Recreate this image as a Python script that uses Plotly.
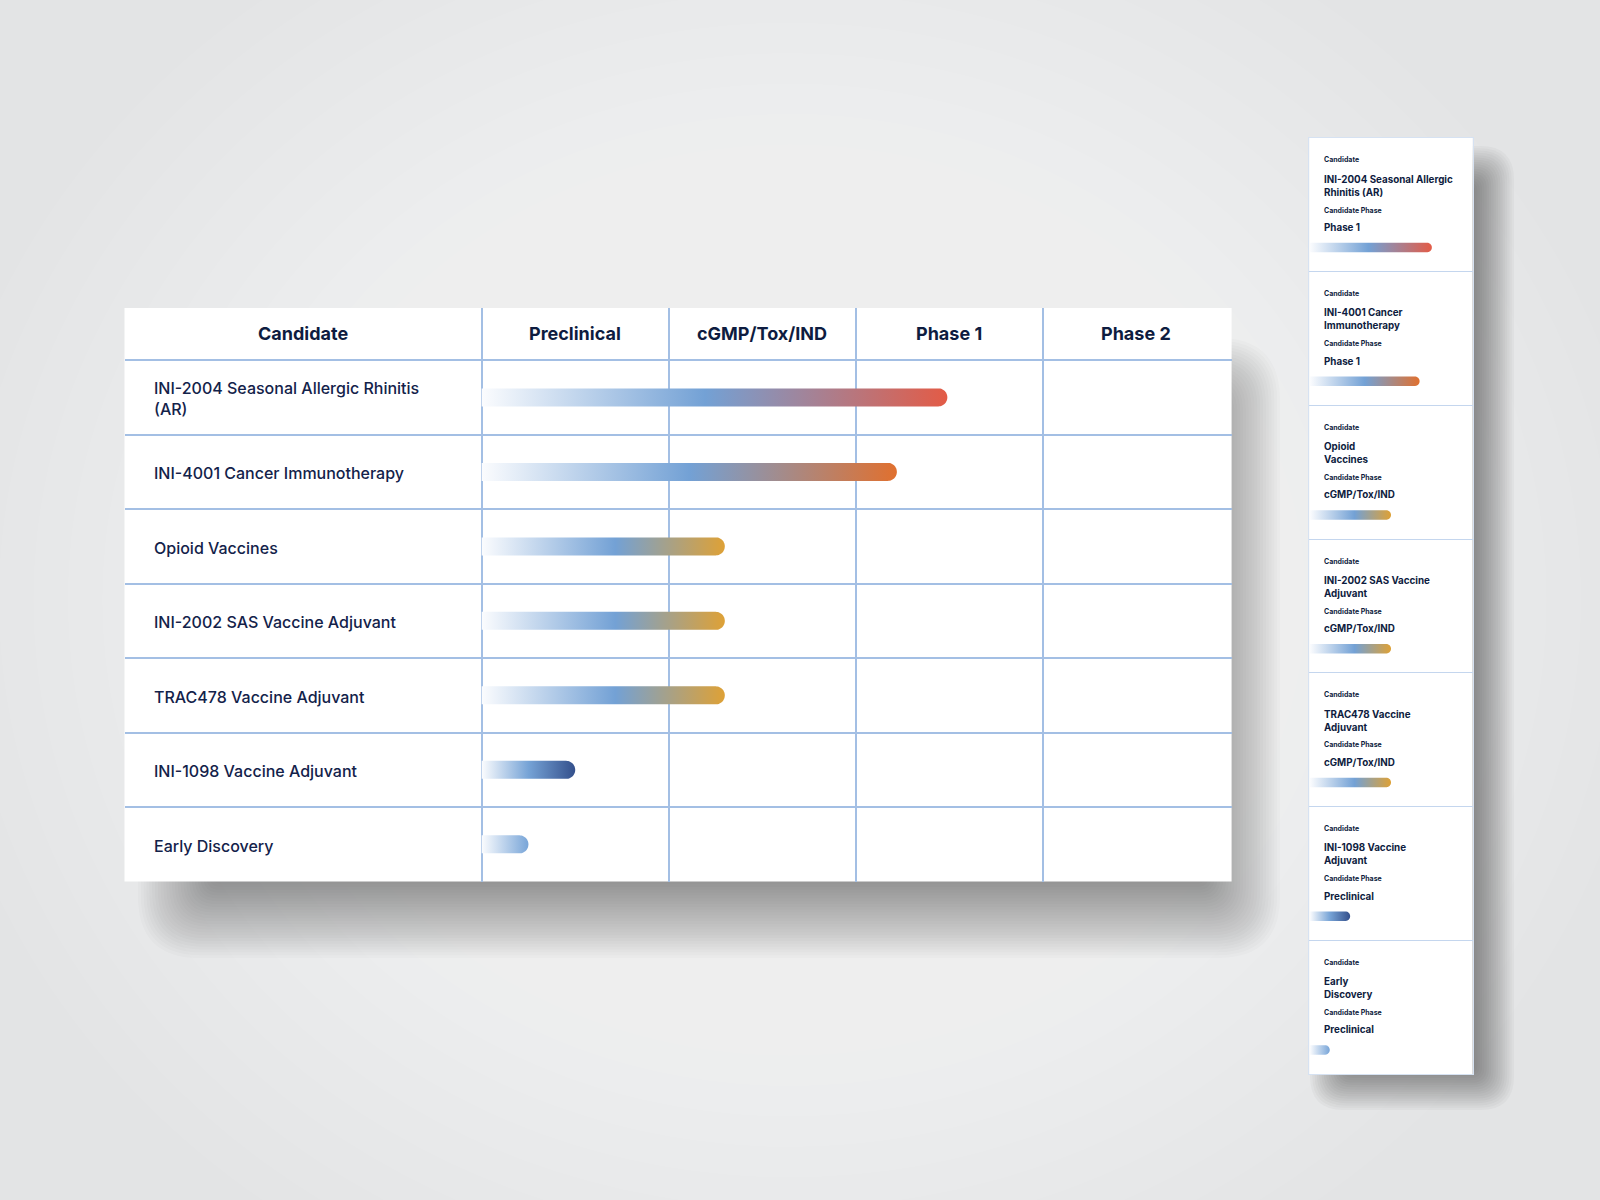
import numpy as np
import plotly.graph_objects as go

# ---------------- data ----------------
phases = ["Preclinical", "cGMP/Tox/IND", "Phase 1", "Phase 2"]
candidates = [
    "INI-2004 Seasonal Allergic Rhinitis<br>(AR)",
    "INI-4001 Cancer Immunotherapy",
    "Opioid Vaccines",
    "INI-2002 SAS Vaccine Adjuvant",
    "TRAC478 Vaccine Adjuvant",
    "INI-1098 Vaccine Adjuvant",
    "Early Discovery",
]
card_names = [
    "INI-2004 Seasonal Allergic<br>Rhinitis (AR)",
    "INI-4001 Cancer<br>Immunotherapy",
    "Opioid<br>Vaccines",
    "INI-2002 SAS Vaccine<br>Adjuvant",
    "TRAC478 Vaccine<br>Adjuvant",
    "INI-1098 Vaccine<br>Adjuvant",
    "Early<br>Discovery",
]
card_phase = ["Phase 1", "Phase 1", "cGMP/Tox/IND", "cGMP/Tox/IND",
              "cGMP/Tox/IND", "Preclinical", "Preclinical"]
# progress in phase-column units (0 = start of Preclinical)
progress = [2.49, 2.22, 1.30, 1.30, 1.30, 0.50, 0.25]
# progress as fraction of the mobile card width
card_progress = [0.75, 0.675, 0.50, 0.50, 0.50, 0.25, 0.125]

# ---------------- styles ----------------
NAVY = "#0e1c40"
BLUE = "#73a1d5"
gradients = [
    [[0, "#fbfcfe"], [0.48, BLUE], [1, "#e35b46"]],
    [[0, "#fbfcfe"], [0.50, BLUE], [1, "#e0702f"]],
    [[0, "#fbfcfe"], [0.55, BLUE], [1, "#dea136"]],
    [[0, "#fbfcfe"], [0.55, BLUE], [1, "#dea136"]],
    [[0, "#fbfcfe"], [0.55, BLUE], [1, "#dea136"]],
    [[0, "#fbfcfe"], [0.50, "#76a3d6"], [1, "#34508c"]],
    [[0, "#fbfcfe"], [1, "#78a5d8"]],
]

W, H = 1600, 1200
T_L, T_R, T_T, T_B = 124.5, 1231.6, 308.0, 881.6      # main table box (px)
C_L, C_R, C_T, C_B = 1309.3, 1472.7, 137.8, 1074.0    # mobile card box (px)
XR = [-1.91, 4.01]
YR = [6.5, -1.2]
PPX = (T_R - T_L) / (XR[1] - XR[0])
PPY = (T_B - T_T) / (YR[0] - YR[1])
N = len(candidates)
PPX2 = (C_R - C_L) / 1.0
PPY2 = (C_B - C_T) / N


def capsule(x0, x1, yc, h_px, ppx, ppy, n=30):
    rx = h_px / 2 / ppx
    ry = h_px / 2 / ppy
    cx = max(x1 - rx, x0)
    th = np.linspace(-np.pi / 2, np.pi / 2, n)
    xs = [x0] + list(cx + rx * np.cos(th)) + [x0, x0]
    ys = [yc - ry] + list(yc + ry * np.sin(th)) + [yc + ry, yc - ry]
    return xs, ys


fig = go.Figure()

# main table bars
for i, v in enumerate(progress):
    xs, ys = capsule(0, v, i, 18, PPX, PPY)
    fig.add_trace(go.Scatter(
        x=xs, y=ys, mode="none", fill="toself",
        fillgradient=dict(type="horizontal", colorscale=gradients[i], start=0, stop=v),
        hoverinfo="skip", showlegend=False, xaxis="x", yaxis="y"))

# mobile card bars
for i, v in enumerate(card_progress):
    xs, ys = capsule(0.004, v, i + 0.82, 9.5, PPX2, PPY2)
    fig.add_trace(go.Scatter(
        x=xs, y=ys, mode="none", fill="toself",
        fillgradient=dict(type="horizontal", colorscale=gradients[i], start=0.004, stop=v),
        hoverinfo="skip", showlegend=False, xaxis="x2", yaxis="y2"))

ann = []
HF = dict(family="Inter", size=18, color=NAVY, weight=700)
ann.append(dict(x=(XR[0] + 0) / 2, y=-0.86, text="Candidate", xref="x", yref="y",
                showarrow=False, font=HF))
for j, p in enumerate(phases):
    ann.append(dict(x=j + 0.5, y=-0.86, text=p, xref="x", yref="y", showarrow=False, font=HF))
for i, c in enumerate(candidates):
    ann.append(dict(x=XR[0] + (152 - T_L) / PPX, y=i + 0.02, text=c, xref="x", yref="y",
                    xanchor="left", align="left", showarrow=False,
                    font=dict(family="Inter", size=16, color="#13224a", weight=500)))

# card texts
cx = 0.078
SF = dict(family="Inter", size=7, color=NAVY, weight=700)
BF = dict(family="Inter", size=9.8, color=NAVY, weight=700)
for i in range(N):
    ann.append(dict(x=cx, y=i + 0.165, text="Candidate", xref="x2", yref="y2",
                    xanchor="left", showarrow=False, font=SF))
    ann.append(dict(x=cx, y=i + 0.357, text=card_names[i], xref="x2", yref="y2",
                    xanchor="left", align="left", showarrow=False, font=BF))
    ann.append(dict(x=cx, y=i + 0.54, text="Candidate Phase", xref="x2", yref="y2",
                    xanchor="left", showarrow=False, font=SF))
    ann.append(dict(x=cx, y=i + 0.67, text=card_phase[i], xref="x2", yref="y2",
                    xanchor="left", showarrow=False, font=BF))

# ---------------- decorative background ----------------
def P(px, py):
    return px / W, 1 - py / H


def rrect(x0, y0, x1, y1, r):
    r = max(0.5, min(r, (x1 - x0) / 2, (y1 - y0) / 2))
    pts = [("M", (x0 + r, y0)), ("L", (x1 - r, y0)), ("Q", (x1, y0), (x1, y0 + r)),
           ("L", (x1, y1 - r)), ("Q", (x1, y1), (x1 - r, y1)), ("L", (x0 + r, y1)),
           ("Q", (x0, y1), (x0, y1 - r)), ("L", (x0, y0 + r)), ("Q", (x0, y0), (x0 + r, y0))]
    s = ""
    for seg in pts:
        s += seg[0] + " " + " ".join("%.5f,%.5f" % P(*p) for p in seg[1:]) + " "
    return s + "Z"


shapes = []
for k in range(20):
    f = 1 - k * 0.04
    rx, ry = 860 * f, 760 * f
    x0, y0 = P(790 - rx, 600 - ry)
    x1, y1 = P(790 + rx, 600 + ry)
    shapes.append(dict(type="circle", xref="paper", yref="paper", x0=x0, x1=x1, y0=y0, y1=y1,
                       fillcolor="rgba(255,255,255,0.055)", line=dict(width=0), layer="below"))


def shadow(x0, y0, x1, y1, spread, n, alpha):
    for k in range(n):
        e = -spread + 2 * spread * k / (n - 1)
        shapes.append(dict(type="path", xref="paper", yref="paper",
                           path=rrect(x0 - e, y0 - e, x1 + e, y1 + e, spread * 0.7 + e * 0.7),
                           fillcolor="rgba(40,40,40,%.4f)" % alpha, line=dict(width=0),
                           layer="below"))


shadow(182, 382, 1236, 914, 44, 32, 0.021)
shadow(1334, 170, 1490, 1086, 24, 22, 0.03)

for (l, t, r, b) in [(T_L, T_T, T_R, T_B), (C_L, C_T, C_R, C_B)]:
    x0, y0 = P(l, b)
    x1, y1 = P(r, t)
    shapes.append(dict(type="rect", xref="paper", yref="paper", x0=x0, x1=x1, y0=y0, y1=y1,
                       fillcolor="white", line=dict(width=0), layer="below"))

ax_common = dict(showticklabels=False, ticks="", zeroline=False, fixedrange=True)
fig.update_layout(
    width=W, height=H, margin=dict(l=0, r=0, t=0, b=0),
    paper_bgcolor="#e3e4e5", plot_bgcolor="rgba(0,0,0,0)",
    showlegend=False, shapes=shapes, annotations=ann,
    xaxis=dict(domain=[T_L / W, T_R / W], range=XR, tickvals=[0, 1, 2, 3],
               showgrid=True, gridcolor="#a3bfe4", gridwidth=1.5, **ax_common),
    yaxis=dict(domain=[1 - T_B / H, 1 - T_T / H], range=YR,
               tickvals=[i - 0.5 for i in range(N)],
               showgrid=True, gridcolor="#a3bfe4", gridwidth=1.5, **ax_common),
    xaxis2=dict(domain=[C_L / W, C_R / W], range=[0, 1], showgrid=False,
                showline=True, mirror=True, linecolor="#d6e2f2", linewidth=1,
                anchor="y2", **ax_common),
    yaxis2=dict(domain=[1 - C_B / H, 1 - C_T / H], range=[N, 0],
                tickvals=list(range(1, N)), showgrid=True, gridcolor="#c4d6ee",
                gridwidth=1.2, showline=True, mirror=True, linecolor="#d6e2f2",
                linewidth=1, anchor="x2", **ax_common),
)

fig.write_html("out.html", config={"displayModeBar": False},
               post_script="document.body.style.margin='0';document.body.style.padding='0';")
